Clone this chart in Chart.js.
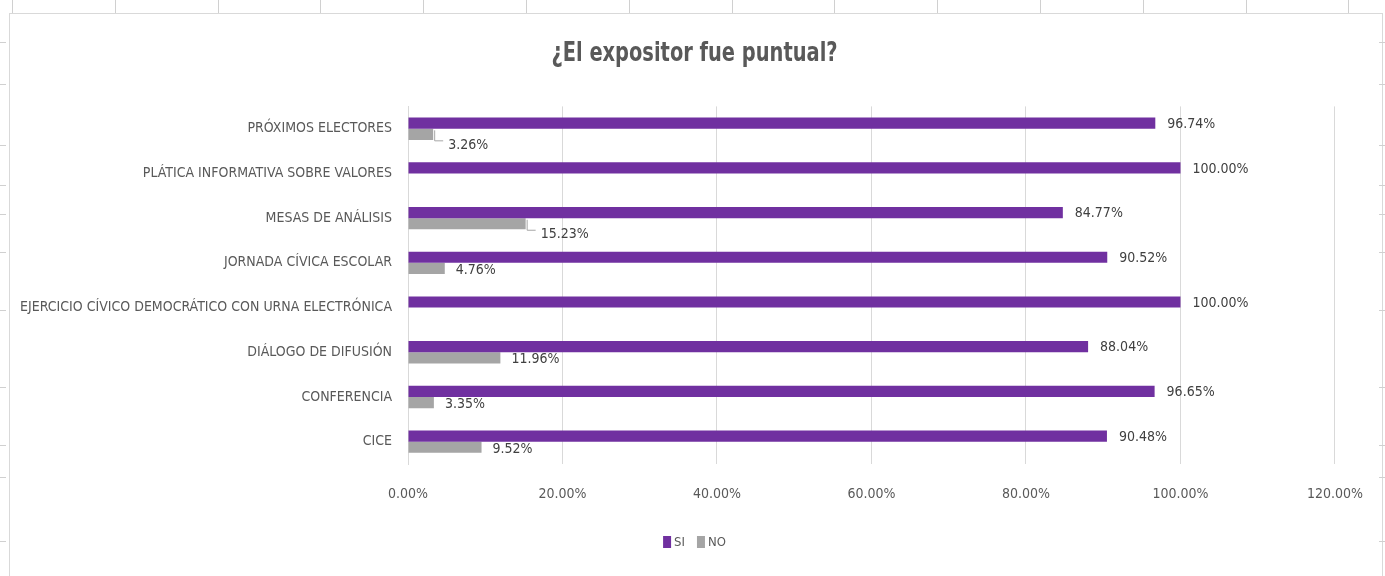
<!DOCTYPE html>
<html>
<head>
<meta charset="utf-8">
<script src="https://cdn.jsdelivr.net/npm/chart.js@4.4.1/dist/chart.umd.min.js"></script>
<style>
  html, body { margin: 0; padding: 0; background: #fff; }
  #wrap { position: relative; width: 1385px; height: 576px; overflow: hidden; }
  #frame { position: absolute; left: 9px; top: 13px; width: 1372px; height: 600px; border: 1px solid #d9d9d9; }
  #topticks { position: absolute; left: 12px; top: 0; width: 1373px; height: 13px;
    background: repeating-linear-gradient(to right, #d0d0d0 0, #d0d0d0 1px, transparent 1px, transparent 102.8px); }
  .rtick { position: absolute; width: 6px; height: 1px; background: #d0d0d0; }
  #myChart { position: absolute; left: 0; top: 0; }
</style>
</head>
<body>
<div id="wrap">
  <div id="frame"></div>
  <div id="topticks"></div>
  <canvas id="myChart" width="1385" height="576"></canvas>
</div>
<script>
// data
var categories = ['PRÓXIMOS ELECTORES', 'PLÁTICA INFORMATIVA SOBRE VALORES', 'MESAS DE ANÁLISIS',
    'JORNADA CÍVICA ESCOLAR', 'EJERCICIO CÍVICO DEMOCRÁTICO CON URNA ELECTRÓNICA',
    'DIÁLOGO DE DIFUSIÓN', 'CONFERENCIA', 'CICE'];
var siValues = [96.74, 100.00, 84.77, 90.52, 100.00, 88.04, 96.65, 90.48];
var noValues = [3.26, null, 15.23, 4.76, null, 11.96, 3.35, 9.52];
var xTicks = [0, 20, 40, 60, 80, 100, 120];

var FONT = '"Liberation Sans Narrow", "DejaVu Sans Condensed", "Roboto Condensed", sans-serif';
var TEXT = '#595959';

// row marks of the sheet peeking out at the left and right edges
[42, 84, 145, 185, 214, 252, 310, 387, 445, 477, 541].forEach(function (y) {
    ['0px', '1379px'].forEach(function (left) {
        var d = document.createElement('div');
        d.className = 'rtick';
        d.style.top = y + 'px';
        d.style.left = left;
        document.getElementById('wrap').appendChild(d);
    });
});

function pct(v) { return v.toFixed(2) + '%'; }

// title squeezed like the narrow Excel font, and the legend, both centred on the whole chart
var titleAndLegend = {
    id: 'titleAndLegend',
    afterDraw: function (chart) {
        var ctx = chart.ctx;
        var cx = chart.width / 2 + 2;
        var tb = chart.titleBlock;
        var opts = chart.options.plugins.title;
        ctx.save();
        ctx.font = 'bold 27px ' + FONT;
        ctx.fillStyle = TEXT;
        ctx.textAlign = 'center';
        ctx.textBaseline = 'middle';
        ctx.translate(cx, tb.top + opts.padding.top + 16);
        ctx.scale(0.8, 1);
        ctx.fillText(opts.text, 0, 0);
        ctx.restore();

        ctx.save();
        ctx.font = '13px ' + FONT;
        ctx.textBaseline = 'middle';
        ctx.textAlign = 'left';
        var items = chart.data.datasets.map(function (ds) {
            return { text: ds.label, color: ds.backgroundColor, w: 8 + 3 + ctx.measureText(ds.label).width };
        });
        var total = items.reduce(function (s, it) { return s + it.w; }, 0) + 12 * (items.length - 1);
        var x = cx - total / 2;
        var y = chart.height - 34;
        items.forEach(function (it) {
            ctx.fillStyle = it.color;
            ctx.fillRect(x, y - 6, 8, 12);
            ctx.fillStyle = TEXT;
            ctx.fillText(it.text, x + 11, y + 1);
            x += it.w + 12;
        });
        ctx.restore();
    }
};

var valueLabels = {
    id: 'valueLabels',
    afterDatasetsDraw: function (chart) {
        var ctx = chart.ctx;
        ctx.save();
        ctx.font = '14px ' + FONT;
        ctx.fillStyle = '#404040';
        ctx.textAlign = 'left';
        ctx.textBaseline = 'middle';
        chart.data.datasets.forEach(function (ds, di) {
            chart.getDatasetMeta(di).data.forEach(function (el, i) {
                var v = ds.data[i];
                if (v === null || v === undefined) return;
                if (di === 0) {
                    ctx.fillText(pct(v), el.x + 12, el.y + 1);
                } else if (ds.leader[i]) {
                    // callout with an elbow leader line
                    ctx.strokeStyle = '#a6a6a6';
                    ctx.lineWidth = 1;
                    ctx.beginPath();
                    ctx.moveTo(el.x + 1.5, el.y - 4);
                    ctx.lineTo(el.x + 1.5, el.y + 6.5);
                    ctx.lineTo(el.x + 10, el.y + 6.5);
                    ctx.stroke();
                    ctx.fillText(pct(v), el.x + 15, el.y + 11);
                } else {
                    ctx.fillText(pct(v), el.x + 11, el.y + 2);
                }
            });
        });
        ctx.restore();
    }
};

var chart = new Chart(document.getElementById('myChart').getContext('2d'), {
    type: 'bar',
    data: {
        labels: categories,
        datasets: [{
            label: 'SI',
            data: siValues,
            backgroundColor: '#7030a0',
            borderWidth: 0
        }, {
            label: 'NO',
            data: noValues,
            backgroundColor: '#a5a5a5',
            borderWidth: 0,
            leader: [true, false, true, false, false, false, false, false]
        }]
    },
    options: {
        indexAxis: 'y',
        responsive: false,
        animation: false,
        devicePixelRatio: 1,
        categoryPercentage: 0.5,
        barPercentage: 1.0,
        layout: { padding: { top: 20, left: 0, right: 50, bottom: 51 } },
        scales: {
            x: {
                min: 0,
                max: 120,
                afterBuildTicks: function (s) { s.ticks = xTicks.map(function (v) { return { value: v }; }); },
                afterFit: function (s) { s.height = 61; },
                grid: { color: '#d9d9d9', drawTicks: false },
                border: { display: false },
                ticks: {
                    padding: 22,
                    color: TEXT,
                    font: { family: FONT, size: 14 },
                    callback: function (v) { return pct(v); }
                }
            },
            y: {
                afterFit: function (s) { s.width = 408; },
                grid: { display: false, drawTicks: false },
                border: { display: true, color: '#d9d9d9' },
                ticks: {
                    padding: 16,
                    color: TEXT,
                    font: { family: FONT, size: 14 }
                }
            }
        },
        plugins: {
            title: {
                display: true,
                text: '¿El expositor fue puntual?',
                color: 'rgba(0,0,0,0)',
                font: { family: FONT, size: 27, weight: 'bold' },
                padding: { top: 18, bottom: 36 }
            },
            legend: { display: false },
            tooltip: { enabled: false }
        }
    },
    plugins: [valueLabels, titleAndLegend]
});
</script>
</body>
</html>
